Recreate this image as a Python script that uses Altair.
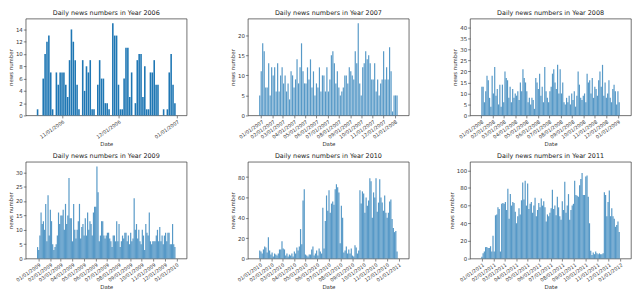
import altair as alt
import pandas as pd

# ---- data (news counts) ----
v2006 = [1, 0, 0, 6, 10, 12, 13, 7, 1, 0, 7, 5, 7, 7, 7, 5, 3, 9, 14, 12, 9, 5, 1, 0,
         9, 4, 8, 7, 9, 1, 1, 0, 5, 9, 6, 6, 2, 2, 1, 0, 15, 13, 13, 5, 1, 1, 6, 11,
         11, 3, 7, 0, 2, 9, 10, 10, 3, 8, 1, 1, 7, 7, 9, 5, 5, 0, 0, 1, 0, 1, 7, 10, 5, 2]
v2007 = [5, 11, 18, 16, 7, 7, 13, 5, 12, 10, 12, 6, 13, 6, 10, 12, 8, 10, 6, 8,
         4, 11, 10, 7, 9, 14, 8, 12, 18, 11, 8, 8, 12, 9, 14, 7, 11, 5, 8, 7,
         12, 6, 10, 10, 6, 12, 6, 9, 15, 16, 13, 8, 11, 7, 5, 6, 7, 10, 10, 8,
         12, 11, 10, 9, 16, 13, 23, 8, 5, 12, 13, 16, 14, 15, 13, 9, 9, 13, 6, 9,
         5, 8, 9, 16, 9, 12, 9, 17, 11, 1, 5, 5, 5]
v2008 = [13, 13, 6, 11, 18, 16, 8, 4, 18, 10, 22, 9, 12, 5, 14, 4, 14, 6, 20, 17,
         16, 8, 13, 6, 12, 8, 10, 9, 11, 7, 15, 11, 21, 17, 15, 11, 6, 8, 5, 8,
         7, 3, 17, 15, 12, 19, 9, 13, 6, 22, 11, 8, 6, 11, 13, 19, 21, 15, 12, 23,
         10, 21, 10, 15, 6, 5, 8, 6, 9, 5, 10, 7, 11, 4, 9, 20, 14, 8, 7, 9,
         10, 6, 19, 15, 16, 10, 17, 8, 13, 12, 9, 16, 20, 13, 23, 9, 15, 8, 10, 16,
         8, 6, 12, 14, 11, 5, 11, 6]
v2009 = [4, 3, 8, 16, 12, 13, 10, 19, 6, 22, 8, 17, 13, 5, 3, 4, 5, 8, 16, 12,
         15, 15, 17, 10, 19, 12, 15, 28, 14, 14, 6, 19, 10, 7, 10, 13, 19, 7, 11, 12,
         8, 14, 8, 16, 10, 13, 12, 8, 16, 18, 18, 32, 23, 6, 8, 13, 13, 8, 7, 8,
         9, 9, 7, 6, 4, 8, 8, 6, 13, 6, 12, 4, 6, 8, 7, 9, 9, 6, 8, 5,
         9, 6, 7, 21, 10, 12, 7, 10, 6, 5, 10, 8, 3, 12, 9, 8, 16, 6, 5, 6,
         6, 6, 8, 10, 6, 11, 6, 8, 5, 8, 9, 6, 9, 9, 5, 5, 12, 5, 4]
v2010 = [8, 7, 5, 9, 12, 11, 6, 21, 8, 4, 6, 2, 5, 4, 3, 5, 9, 9, 17, 10,
         9, 3, 5, 2, 4, 3, 5, 2, 7, 5, 11, 8, 12, 29, 14, 57, 68, 4, 3, 2,
         4, 4, 9, 12, 3, 5, 8, 3, 10, 7, 5, 50, 10, 37, 62, 47, 67, 45, 54, 56,
         53, 68, 73, 70, 65, 15, 52, 40, 6, 8, 12, 5, 9, 5, 10, 3, 2, 13, 11, 5,
         8, 67, 54, 66, 64, 45, 60, 52, 57, 79, 76, 40, 65, 60, 79, 46, 55, 78, 60, 55,
         47, 62, 45, 40, 45, 56, 58, 39, 30, 26, 27, 7]
v2011 = [2, 6, 8, 13, 13, 12, 12, 14, 8, 26, 8, 49, 50, 58, 56, 8, 62, 63, 62, 64,
         55, 79, 45, 73, 60, 64, 63, 53, 40, 48, 57, 50, 66, 86, 67, 88, 60, 85, 56, 62,
         64, 52, 60, 69, 48, 55, 63, 58, 68, 60, 65, 58, 42, 50, 48, 52, 57, 78, 56, 60,
         49, 70, 58, 48, 44, 65, 55, 87, 52, 60, 73, 44, 55, 60, 62, 88, 72, 71, 70, 83,
         90, 97, 72, 72, 93, 94, 70, 40, 9, 4, 7, 5, 8, 6, 5, 6, 5, 5, 6, 75,
         72, 48, 64, 77, 48, 57, 48, 45, 36, 38, 42, 30]

years = ["2006", "2007", "2008", "2009", "2010", "2011"]
series = [v2006, v2007, v2008, v2009, v2010, v2011]
first_dates = ["2006-10-19", "2006-12-28", "2008-01-03", "2008-12-30", "2010-01-01", "2011-01-01"]
last_dates = ["2006-12-31", "2008-01-07", "2009-01-05", "2009-12-28", "2010-12-28", "2011-12-29"]
y_max = [15.75, 24.15, 44, 33.6, 95, 109.5]
y_ticks = [list(range(0, 15, 2)), list(range(0, 21, 5)), list(range(0, 41, 5)),
           list(range(0, 31, 5)), list(range(0, 81, 20)), list(range(0, 101, 20))]
x_ticks = [
    [(2006, 11), (2006, 12), (2007, 1)],
    [(2007, m) for m in range(1, 13)] + [(2008, 1)],
    [(2008, m) for m in range(1, 13)] + [(2009, 1)],
    [(2009, m) for m in range(1, 13)] + [(2010, 1)],
    [(2010, m) for m in range(1, 13)] + [(2011, 1)],
    [(2011, m) for m in range(1, 13)] + [(2012, 1)],
]

W, H = 163, 98
BLUE = "#1f77b4"


def dt(ts):
    return alt.DateTime(year=ts.year, month=ts.month, date=ts.day,
                        hours=ts.hour, minutes=ts.minute)


def panel(i):
    vals = series[i]
    d0, d1 = pd.Timestamp(first_dates[i]), pd.Timestamp(last_dates[i])
    dates = pd.date_range(d0, d1, periods=len(vals))
    df = pd.DataFrame({"date": dates, "n": vals})
    span = dates[-1] - dates[0]
    lo, hi = dates[0] - span * 0.05, dates[-1] + span * 0.05
    size = 1.6 if i == 0 else 1.2
    return alt.Chart(df).mark_bar(size=size, color=BLUE, opacity=1.0 if i == 0 else 0.75).encode(
        x=alt.X("date:T", title="Date",
                scale=alt.Scale(domain=[dt(lo), dt(hi)], nice=False),
                axis=alt.Axis(values=[alt.DateTime(year=y, month=m, date=1) for y, m in x_ticks[i]],
                              format="%m/%d/%Y", labelAngle=-35, labelAlign="right",
                              labelBaseline="top", labelOverlap=False, labelFontSize=5)),
        y=alt.Y("n:Q", title="news number",
                scale=alt.Scale(domain=[0, y_max[i]], nice=False, zero=True),
                axis=alt.Axis(values=y_ticks[i])),
    ).properties(
        width=W, height=H,
        title=alt.TitleParams(f"Daily news numbers in Year {years[i]}", fontSize=6.5,
                              fontWeight="normal", offset=2, color="#222"),
    )


row1 = alt.hconcat(panel(0), panel(1), panel(2), spacing=62, bounds="flush")
row2 = alt.hconcat(panel(3), panel(4), panel(5), spacing=62, bounds="flush")
chart = alt.vconcat(row1, row2, spacing=6).properties(
    padding={"left": 0, "top": 0, "right": 0, "bottom": 0}
).configure_view(
    stroke="#333", strokeWidth=0.7
).configure_axis(
    labelFontSize=5.5, titleFontSize=5.5, labelFont="DejaVu Sans", titleFont="DejaVu Sans",
    titleFontWeight="normal", labelColor="#333", titleColor="#333",
    tickSize=2.5, tickColor="#333", tickWidth=0.6, domain=False, grid=False,
    labelPadding=1, titlePadding=2,
).configure_title(font="DejaVu Sans")

chart.save("out.html", embed_options={"renderer": "svg", "actions": False})
